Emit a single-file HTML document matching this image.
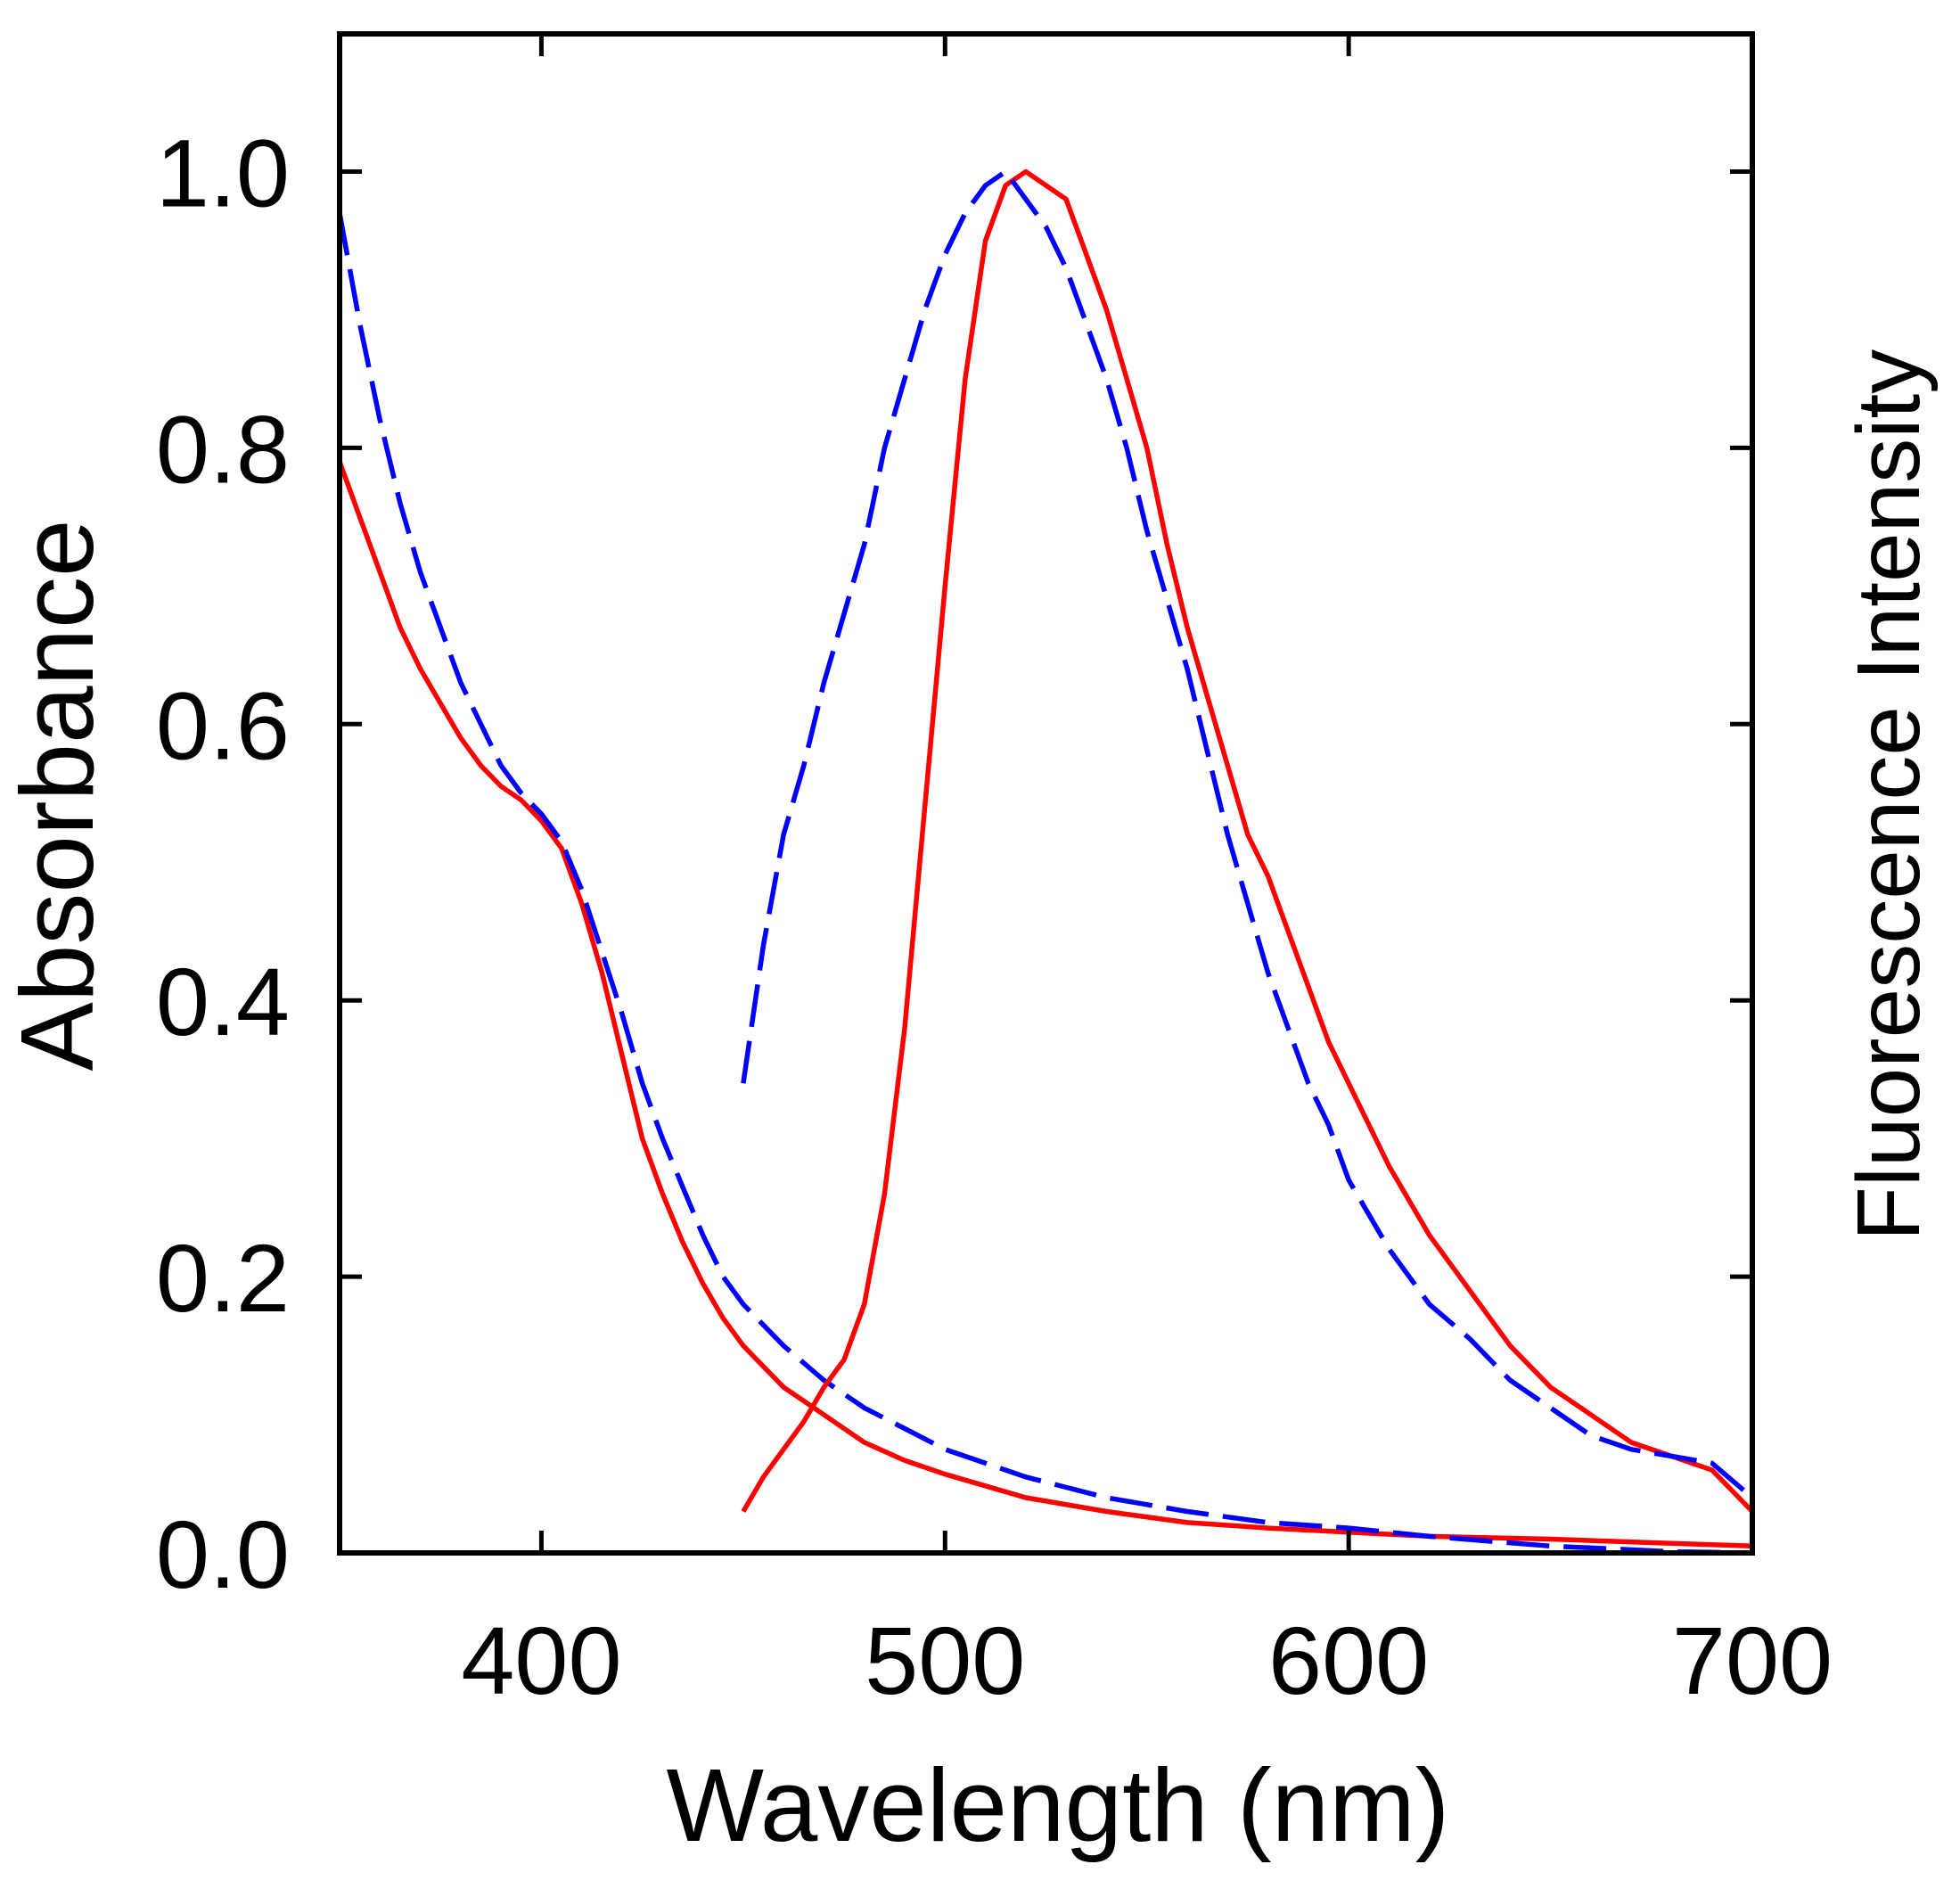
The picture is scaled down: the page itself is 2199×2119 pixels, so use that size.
<!DOCTYPE html>
<html><head><meta charset="utf-8"><style>
html,body{margin:0;padding:0;background:#fff;}
svg{display:block;font-family:"Liberation Sans",Arial,sans-serif;}
</style></head><body>
<svg id="chart" width="2199" height="2119" viewBox="0 0 2199 2119">
<g id="marks"></g>
<rect x="381" y="38" width="1585" height="1704" fill="none" stroke="#000" stroke-width="6"/>
<g id="ticks"></g>
<text x="1187" y="2065" font-size="116" text-anchor="middle">Wavelength (nm)</text>
<text transform="translate(104,892) rotate(-90)" font-size="116" text-anchor="middle">Absorbance</text>
<text transform="translate(2153,892) rotate(-90)" font-size="100" text-anchor="middle">Fluorescence Intensity</text>
</svg>
<script>
const xTicks=[400,500,600,700];
const xTickLabels=["400","500","600","700"];
const yTicks=[0,0.2,0.4,0.6,0.8,1.0];
const yTickLabels=["0.0","0.2","0.4","0.6","0.8","1.0"];
const absX=[350,355,360,365,370,375,380,385,390,395,400,405,410,415,420,425,430,435,440,445,450,460,470,480,490,500,520,540,560,580,600,620,650,680,700];
const absRed=[0.79,0.75,0.71,0.67,0.64,0.615,0.59,0.57,0.555,0.545,0.53,0.51,0.47,0.42,0.36,0.30,0.26,0.225,0.195,0.17,0.15,0.12,0.10,0.08,0.067,0.057,0.04,0.03,0.022,0.018,0.015,0.012,0.01,0.007,0.005];
const absBlue=[0.97,0.89,0.82,0.76,0.71,0.67,0.63,0.60,0.57,0.55,0.535,0.515,0.48,0.435,0.39,0.34,0.30,0.265,0.23,0.20,0.18,0.15,0.125,0.105,0.09,0.075,0.055,0.04,0.03,0.022,0.018,0.012,0.005,0.001,0];
const flX=[450,455,460,465,470,475,480,485,490,495,500,505,510,515,520,525,530,535,540,545,550,555,560,565,570,575,580,585,590,595,600,610,620,630,640,650,660,670,680,690,700];
const flBlue=[0.34,0.44,0.52,0.57,0.63,0.68,0.73,0.80,0.85,0.90,0.94,0.97,0.99,1.0,0.98,0.96,0.93,0.89,0.85,0.80,0.74,0.69,0.64,0.58,0.52,0.47,0.42,0.38,0.34,0.31,0.27,0.22,0.18,0.155,0.125,0.105,0.085,0.075,0.07,0.065,0.04];
const flRed=[0.03,0.055,0.075,0.095,0.12,0.14,0.18,0.26,0.38,0.54,0.70,0.85,0.95,0.99,1.0,0.99,0.98,0.94,0.90,0.85,0.80,0.73,0.67,0.62,0.57,0.52,0.49,0.45,0.41,0.37,0.34,0.28,0.23,0.19,0.15,0.12,0.10,0.08,0.07,0.06,0.03];
const L=381,R=1966,T=38,B=1742,Y1=192.5;
const xs=v=>L+(v-350)/350*(R-L);
const ys=v=>B-v*(B-Y1);
const NS="http://www.w3.org/2000/svg";
const marks=document.getElementById('marks'),ticks=document.getElementById('ticks');
function line(xa,ya,color,dash,name){
  const p=document.createElementNS(NS,'path');
  p.setAttribute('d',xa.map((x,i)=>(i?'L':'M')+xs(x).toFixed(1)+','+ys(ya[i]).toFixed(1)).join(''));
  p.setAttribute('fill','none');p.setAttribute('stroke',color);p.setAttribute('stroke-width','5.5');
  p.setAttribute('stroke-linejoin','round');
  if(dash)p.setAttribute('stroke-dasharray',dash);
  
  
  marks.appendChild(p);
}
line(absX,absRed,'#ff0000',null,'absorbance-red-line');
line(absX,absBlue,'#0000ff','48 16','absorbance-blue-line');
line(flX,flRed,'#ff0000',null,'fluorescence-red-line');
line(flX,flBlue,'#0000ff','48 16','fluorescence-blue-line');
function seg(x1,y1,x2,y2){const l=document.createElementNS(NS,'line');
  l.setAttribute('x1',x1);l.setAttribute('y1',y1);l.setAttribute('x2',x2);l.setAttribute('y2',y2);
  l.setAttribute('stroke','#000');l.setAttribute('stroke-width','5');
  
  
  ticks.appendChild(l);}
function txt(x,y,s,anchor,name){const t=document.createElementNS(NS,'text');
  t.setAttribute('x',x);t.setAttribute('y',y);t.setAttribute('font-size','108');t.setAttribute('text-anchor',anchor);
  t.textContent=s;
  
  
  ticks.appendChild(t);}
xTicks.forEach((v,i)=>{const x=xs(v);if(v<700){seg(x,B,x,B-25);seg(x,T,x,T+25);}
  txt(x,1900,xTickLabels[i],'middle','x-tick-label');});
yTicks.forEach((v,i)=>{const y=ys(v);if(v>0){seg(L,y,L+25,y);seg(R,y,R-25,y);}
  txt(325,y+39,yTickLabels[i],'end','y-tick-label');});
</script>
</body></html>
